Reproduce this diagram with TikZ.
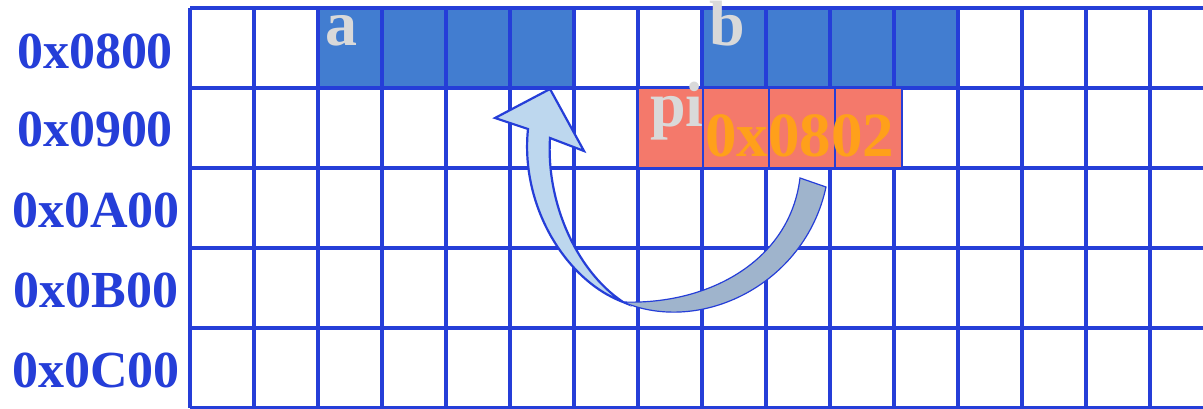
\documentclass[tikz,border=0pt]{standalone}
\usepackage{fontspec}
\setmainfont{Liberation Serif}
\definecolor{gridblue}{RGB}{37,62,216}
\definecolor{cellblue}{RGB}{66,125,208}
\definecolor{cellred}{RGB}{244,121,107}
\definecolor{ptrorange}{RGB}{255,160,26}
\definecolor{labelgray}{RGB}{217,217,217}
\definecolor{arrowlight}{RGB}{189,215,238}
\definecolor{arrowdark}{RGB}{159,180,204}

\begin{document}
\begin{tikzpicture}[x=1pt,y=-1pt,
  gridline/.style={draw=gridblue,line width=3.2pt},
  redcell/.style={draw=gridblue,line width=2.6pt,fill=cellred},
  addr/.style={text=gridblue,font=\fontsize{52}{52}\selectfont\bfseries,anchor=base,inner sep=0pt},
  varname/.style={text=labelgray,font=\fontsize{64}{64}\selectfont\bfseries,anchor=base west,inner sep=0pt,text height=0.66em},
  ptrval/.style={text=ptrorange,font=\fontsize{63}{63}\selectfont\bfseries,anchor=base west,inner sep=0pt}]

% page background and size
\fill[white] (0,0) rectangle (1203,409);
\useasboundingbox (0,0) rectangle (1203,409);

% variables a and b (four bytes each) in the row at 0x0800
\fill[cellblue] (318,8) rectangle (574,88);
\fill[cellblue] (702,8) rectangle (958,88);

% memory grid
\foreach \y in {8,88,168,248,328,408}
  \draw[gridline] (190,\y) -- (1203,\y);
\foreach \x in {190,254,...,1150}
  \draw[gridline] (\x,8) -- (\x,408);

% pointer pi in the row at 0x0900
\foreach \xa/\xb in {638/703,703/769,769/835,835/902}
  \draw[redcell] (\xa,88) rectangle (\xb,168);

% row addresses
\node[addr] (r0) at (95,69) {0x0800};
\node[addr] (r1) at (95,147) {0x0900};
\node[addr] (r2) at (96,227) {0x0A00};
\node[addr] (r3) at (96,307) {0x0B00};
\node[addr] (r4) at (96,387) {0x0C00};

% variable names and pointer value
\node[varname] (va) at (325,46) {a};
\node[varname] (vb) at (709,46) {b};
\node[varname] (vpi) at (650,127) {pi};
\node[ptrval] (pval) at (705,157) {0x0802};

% curved arrow from the pointer back to b's address
\draw[draw=gridblue,line width=2.2pt,fill=arrowlight,line join=miter]
  (550,89) -- (584,151) -- (550,138)
  .. controls (546,200) and (575,270) .. (623,302)
  .. controls (565,280) and (520,205) .. (528,129)
  -- (495,118) -- cycle;
\draw[draw=gridblue,line width=1.2pt,fill=arrowdark]
  (623,302) .. controls (700,335) and (805,285) .. (826,187)
  -- (800,178)
  .. controls (790,260) and (710,305) .. (623,302) -- cycle;
\end{tikzpicture}
\end{document}
